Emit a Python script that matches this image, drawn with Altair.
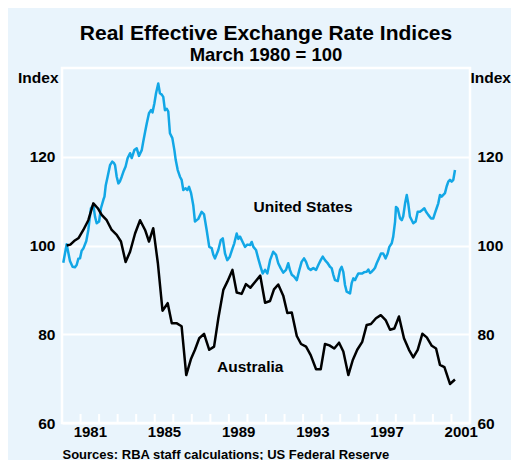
import altair as alt
import pandas as pd

title_text = "Real Effective Exchange Rate Indices"
subtitle_text = "March 1980 = 100"
source_text = "Sources: RBA staff calculations; US Federal Reserve"
series_names = ["United States", "Australia"]
series_colors = ["#12A7E6", "#000000"]
y_ticks = [60, 80, 100, 120]
year_ticks = list(range(1981, 2002))
label_years = [1981, 1985, 1989, 1993, 1997, 2001]

us_year = [
    1980.07, 1980.25, 1980.43, 1980.57, 1980.70, 1980.79, 1980.88, 1980.97,
    1981.06, 1981.15, 1981.31, 1981.42, 1981.56, 1981.69, 1981.78, 1981.87,
    1982.00, 1982.10, 1982.23, 1982.29, 1982.36, 1982.46, 1982.59, 1982.71,
    1982.80, 1982.86, 1982.95, 1983.04, 1983.13, 1983.22, 1983.31, 1983.43,
    1983.54, 1983.67, 1983.76, 1983.90, 1984.03, 1984.15, 1984.30, 1984.38,
    1984.48, 1984.57, 1984.69, 1984.80, 1984.88, 1984.98, 1985.07, 1985.19,
    1985.28, 1985.38, 1985.46, 1985.55, 1985.65, 1985.73, 1985.82, 1985.95,
    1986.06, 1986.13, 1986.24, 1986.36, 1986.45, 1986.54, 1986.67, 1986.76,
    1986.85, 1986.96, 1987.08, 1987.17, 1987.35, 1987.53, 1987.66, 1987.80,
    1987.94, 1988.07, 1988.16, 1988.25, 1988.43, 1988.56, 1988.67, 1988.79,
    1988.91, 1989.04, 1989.20, 1989.29, 1989.42, 1989.51, 1989.60, 1989.74,
    1989.87, 1989.99, 1990.14, 1990.23, 1990.32, 1990.46, 1990.58, 1990.71,
    1990.82, 1990.95, 1991.07, 1991.22, 1991.39, 1991.54, 1991.66, 1991.79,
    1991.93, 1992.08, 1992.20, 1992.29, 1992.39, 1992.51, 1992.66, 1992.80,
    1992.92, 1993.05, 1993.16, 1993.28, 1993.41, 1993.55, 1993.70, 1993.82,
    1993.95, 1994.06, 1994.18, 1994.31, 1994.45, 1994.54, 1994.63, 1994.72,
    1994.87, 1994.99, 1995.08, 1995.17, 1995.26, 1995.35, 1995.53, 1995.62,
    1995.71, 1995.80, 1995.89, 1995.98, 1996.07, 1996.19, 1996.30, 1996.43,
    1996.52, 1996.61, 1996.70, 1996.79, 1996.88, 1996.97, 1997.09, 1997.20,
    1997.32, 1997.45, 1997.56, 1997.65, 1997.78, 1997.86, 1997.96, 1998.01,
    1998.10, 1998.23, 1998.32, 1998.40, 1998.50, 1998.59, 1998.67, 1998.76,
    1998.86, 1998.94, 1999.07, 1999.18, 1999.30, 1999.43, 1999.54, 1999.63,
    1999.75, 1999.90, 2000.02, 2000.11, 2000.20, 2000.29, 2000.38, 2000.47,
    2000.56, 2000.65, 2000.74, 2000.83, 2000.92, 2001.01, 2001.10, 2001.19,
]
us_index = [
    96.1, 100.3, 96.5, 95.2, 95.1, 95.6, 97.0, 97.1,
    98.8, 99.3, 101.0, 103.5, 108.4, 109.1, 106.5, 105.0,
    105.4, 108.4, 110.3, 111.0, 113.6, 115.5, 118.1, 118.9,
    118.6, 118.1, 115.5, 114.0, 114.5, 115.5, 116.6, 117.8,
    119.7, 120.8, 119.7, 121.5, 121.9, 120.2, 121.5, 123.4,
    125.6, 127.5, 129.8, 130.5, 130.0, 132.0, 134.3, 136.5,
    134.3, 134.0, 133.5, 130.5, 130.8, 130.2, 125.3, 124.2,
    121.5, 119.3, 117.0, 115.5, 114.8, 112.5, 112.9, 112.5,
    113.2, 111.8, 109.0, 105.4, 106.0, 107.6, 107.0, 103.5,
    99.7, 99.4, 97.9, 97.1, 99.0, 101.2, 101.6, 98.2,
    96.7, 97.4, 99.4, 100.5, 102.7, 101.5, 102.0, 100.8,
    99.7, 100.2, 100.1, 100.8, 99.7, 99.0, 97.1, 95.2,
    93.7, 94.5, 93.7, 96.7, 98.6, 97.9, 96.0, 94.9,
    93.9, 94.5, 96.0, 94.5, 93.4, 93.0, 92.2, 94.5,
    96.3, 97.1, 96.3, 94.9, 94.5, 94.9, 94.5, 95.6,
    96.7, 97.5, 96.7, 96.1, 95.2, 94.9, 93.4, 92.2,
    92.0, 94.5, 95.2, 94.0, 91.1, 89.6, 89.2, 91.5,
    92.6, 92.2, 93.0, 93.7, 93.7, 93.7, 94.0, 94.1,
    94.6, 93.8, 94.1, 94.5, 95.0, 96.0, 97.1, 98.2,
    98.2, 97.1, 98.2, 99.7, 100.5, 102.0, 105.4, 108.7,
    108.3, 106.1, 105.7, 106.6, 109.5, 111.4, 109.5, 106.5,
    105.7, 105.0, 105.4, 107.6, 107.6, 108.0, 108.4, 107.6,
    106.9, 106.1, 106.1, 107.3, 108.4, 109.5, 111.4, 111.0,
    111.4, 111.8, 113.3, 114.4, 114.8, 114.4, 114.8, 117.0,
]

au_year = [
    1980.25, 1980.45, 1980.65, 1980.90, 1981.15, 1981.42, 1981.69, 1981.93,
    1982.14, 1982.41, 1982.68, 1982.95, 1983.18, 1983.43, 1983.67, 1983.94,
    1984.21, 1984.48, 1984.69, 1984.92, 1985.17, 1985.42, 1985.70, 1985.92,
    1986.17, 1986.45, 1986.70, 1986.96, 1987.17, 1987.40, 1987.66, 1987.94,
    1988.20, 1988.43, 1988.70, 1988.91, 1989.19, 1989.42, 1989.69, 1989.92,
    1990.16, 1990.43, 1990.69, 1990.95, 1991.22, 1991.43, 1991.66, 1991.93,
    1992.15, 1992.39, 1992.66, 1992.89, 1993.16, 1993.41, 1993.70, 1993.95,
    1994.18, 1994.42, 1994.68, 1994.94, 1995.17, 1995.44, 1995.68, 1995.92,
    1996.19, 1996.43, 1996.66, 1996.93, 1997.19, 1997.45, 1997.69, 1997.92,
    1998.17, 1998.44, 1998.71, 1998.94, 1999.18, 1999.43, 1999.67, 1999.94,
    2000.17, 2000.38, 2000.62, 2000.92, 2001.19,
]
au_index = [
    100.0, 100.2, 101.0, 101.7, 103.5, 105.7, 109.5, 108.4,
    106.9, 105.7, 103.5, 102.4, 100.9, 96.3, 98.6, 102.7,
    105.7, 103.5, 100.9, 103.9, 96.0, 85.3, 87.0, 82.5,
    82.5, 81.8, 70.8, 74.5, 76.5, 79.1, 80.1, 76.5,
    77.2, 83.6, 90.0, 91.8, 94.5, 89.4, 89.1, 91.3,
    90.5, 91.9, 93.2, 87.1, 87.5, 90.1, 91.2, 88.7,
    84.8, 84.9, 79.6, 77.8, 77.2, 75.3, 72.1, 72.1,
    77.8, 77.5, 76.8, 78.1, 76.1, 70.8, 74.2, 76.5,
    78.3, 82.1, 82.3, 83.6, 84.3, 83.2, 81.0, 81.3,
    84.0, 79.1, 76.5, 74.8, 76.5, 80.1, 79.3, 77.4,
    76.8, 73.1, 72.6, 68.8, 69.8,
]

label_text = ["United States", "Australia"]
label_year = [1993.0, 1990.15]
label_index = [108.7, 72.6]

FONT = "Liberation Sans"
BG = "#E9F4FC"
W, H = 408, 355

df = pd.concat([
    pd.DataFrame({"year": us_year, "index": us_index, "series": series_names[0]}),
    pd.DataFrame({"year": au_year, "index": au_index, "series": series_names[1]}),
])
tick_df = pd.DataFrame({"year": year_ticks})
lab_df = pd.DataFrame({"year": label_year, "index": label_index, "text": label_text})

x_scale = alt.Scale(domain=[1980, 2002], nice=False, zero=False)
y_scale = alt.Scale(domain=[60, 140], nice=False, zero=False)

label_expr = "indexof(" + str(label_years) + ", datum.value) >= 0 ? datum.label : ''"

x_axis = alt.Axis(
    values=year_ticks, format="d", labelExpr=label_expr, labelOffset=9.27,
    labelOverlap=False, labelFlush=False, labelPadding=1, labelFontSize=15,
    grid=False, ticks=False, domain=False,
    title=source_text, titleX=0, titleY=31, titleAlign="left",
    titleAnchor="start", titleBaseline="middle", titleFontSize=13)

lines = alt.Chart(df).mark_line(strokeWidth=2.5, strokeJoin="round").encode(
    x=alt.X("year:Q", scale=x_scale, axis=x_axis),
    y=alt.Y("index:Q", scale=y_scale, axis=alt.Axis(
        values=y_ticks, grid=True, gridColor="white", gridWidth=2,
        ticks=False, domain=False, labelPadding=7,
        title="Index", titleAngle=0, titleX=-4, titleY=9.5,
        titleAlign="right", titleBaseline="middle", titleFontSize=15.5)),
    color=alt.Color("series:N", scale=alt.Scale(domain=series_names, range=series_colors), legend=None),
    detail="series:N",
)

tick_marks = alt.Chart(tick_df).mark_rule(color="white", strokeWidth=2).encode(
    x=alt.X("year:Q", scale=x_scale, axis=x_axis),
    y=alt.value(H),
    y2=alt.value(H - 9),
)

labels = alt.Chart(lab_df).mark_text(font=FONT, fontSize=15.5, fontWeight="bold", color="black").encode(
    x=alt.X("year:Q", scale=x_scale, axis=x_axis),
    y=alt.Y("index:Q", scale=y_scale, axis=alt.Axis(
        orient="right", values=y_ticks, grid=False, ticks=False, domain=False,
        labelPadding=7, title="Index", titleAngle=0, titleX=0, titleY=9.5,
        titleAlign="left", titleBaseline="middle", titleFontSize=15.5)),
    text="text:N",
)

chart = alt.layer(lines, tick_marks, labels).resolve_axis(y="independent").properties(
    width=W, height=H,
    title=alt.TitleParams(
        text=title_text, subtitle=subtitle_text, anchor="middle",
        font=FONT, fontSize=21, fontWeight="bold", color="black",
        subtitleFont=FONT, subtitleFontSize=18.5, subtitleFontWeight="bold",
        subtitleColor="black", offset=4, subtitlePadding=2),
    background=BG,
    padding={"left": 54, "top": 60, "right": 41, "bottom": 37},
    autosize=alt.AutoSizeParams(type="none"),
).configure_view(
    stroke="white", strokeWidth=2.5
).configure_axis(
    labelFont=FONT, labelFontSize=15.5, labelFontWeight="bold", labelColor="black",
    titleFont=FONT, titleFontWeight="bold", titleColor="black",
)

chart.save("out.html", embed_options={"renderer": "svg", "actions": False})
